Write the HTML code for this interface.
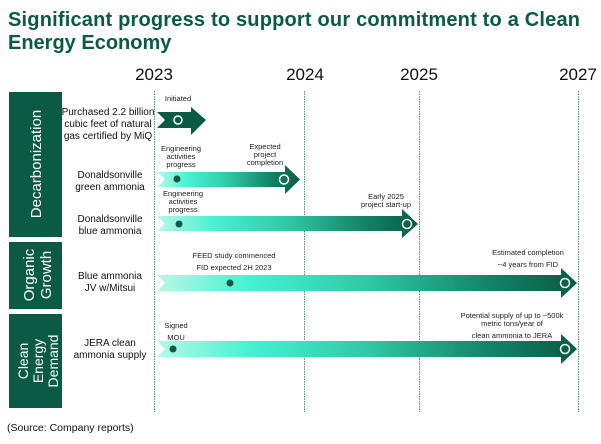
<!DOCTYPE html>
<html><head><meta charset="utf-8"><style>
body{margin:0;background:#fff;}
svg text{font-family:"Liberation Sans",Arial,sans-serif;}
</style></head><body>
<svg width="601" height="439" viewBox="0 0 601 439" xmlns="http://www.w3.org/2000/svg">
<defs>
<linearGradient id="g" x1="0" x2="1" y1="0" y2="0">
<stop offset="0" stop-color="#b8f8e8"/>
<stop offset="0.22" stop-color="#45f2d2"/>
<stop offset="0.5" stop-color="#2fc9a6"/>
<stop offset="0.8" stop-color="#128265"/>
<stop offset="1" stop-color="#0b5a45"/>
</linearGradient>
</defs>
<text x="8" y="26" font-size="20" font-weight="bold" fill="#0b5a45" textLength="572">Significant progress to support our commitment to a Clean</text>
<text x="8" y="49" font-size="20" font-weight="bold" fill="#0b5a45">Energy Economy</text>

<g font-size="17" fill="#111" text-anchor="middle">
<text x="154" y="80">2023</text><text x="305" y="80">2024</text><text x="419" y="80">2025</text><text x="578" y="80">2027</text>
</g>
<g stroke="#5a8a7a" stroke-width="1" stroke-dasharray="1.5,1">
<line x1="154.5" y1="91" x2="154.5" y2="412"/><line x1="304.5" y1="91" x2="304.5" y2="412"/>
<line x1="419.5" y1="91" x2="419.5" y2="412"/><line x1="578.5" y1="91" x2="578.5" y2="412"/>
</g>

<rect x="9" y="92" width="53" height="145" fill="#0b5a45"/>
<rect x="9" y="242" width="53" height="67" fill="#0b5a45"/>
<rect x="9" y="314" width="53" height="94" fill="#0b5a45"/>
<g fill="#fff" font-size="15" text-anchor="middle">
<text transform="translate(41,164) rotate(-90)">Decarbonization</text>
<text transform="translate(34,275) rotate(-90)">Organic</text>
<text transform="translate(51,275) rotate(-90)">Growth</text>
</g>
<g fill="#fff" font-size="14" text-anchor="middle">
<text transform="translate(28,361) rotate(-90)">Clean</text>
<text transform="translate(43,361) rotate(-90)">Energy</text>
<text transform="translate(58,361) rotate(-90)">Demand</text>
</g>

<g font-size="10" fill="#111" text-anchor="middle">
<text x="108" y="115">Purchased 2.2 billion</text>
<text x="108" y="127">cubic feet of natural</text>
<text x="108" y="139">gas certified by MiQ</text>
<text x="110" y="178">Donaldsonville</text>
<text x="110" y="190">green ammonia</text>
<text x="110" y="222">Donaldsonville</text>
<text x="110" y="234">blue ammonia</text>
<text x="110" y="279">Blue ammonia</text>
<text x="110" y="291">JV w/Mitsui</text>
<text x="110" y="346">JERA clean</text>
<text x="110" y="358">ammonia supply</text>
</g>

<polygon points="157,112 191,112 191,107 206,120 191,135 191,128 157,128 165,120" fill="#0b5a45"/>
<polygon points="157,172 285,172 285,165 300,179.5 285,194 285,187 157,187 165,179.5" fill="url(#g)"/>
<polygon points="157,216 402,216 402,209 418,224 402,238 402,231 157,231 165,224" fill="url(#g)"/>
<polygon points="157,275 561,275 561,268 577,283 561,298 561,291 157,291 165,283" fill="url(#g)"/>
<polygon points="157,341 561,341 561,334 577,349 561,364 561,357 157,357 165,349" fill="url(#g)"/>

<g fill="none" stroke="#fff" stroke-width="1.5">
<circle cx="178" cy="120" r="4"/><circle cx="284" cy="179.5" r="4.5"/><circle cx="407" cy="224" r="4.5"/>
<circle cx="565" cy="283" r="4.5"/><circle cx="565" cy="349" r="4.5"/>
</g>
<g fill="#0b5a45">
<circle cx="177" cy="179" r="3.5"/><circle cx="179" cy="224" r="3.5"/><circle cx="230" cy="283" r="3.5"/><circle cx="173" cy="349" r="3.5"/>
</g>

<g font-size="7.5" fill="#222" text-anchor="middle">
<text x="178" y="101">Initiated</text>
<text x="181" y="151">Engineering</text><text x="181" y="159">activities</text><text x="181" y="167">progress</text>
<text x="265" y="149">Expected</text><text x="265" y="157">project</text><text x="265" y="165">completion</text>
<text x="183" y="196">Engineering</text><text x="183" y="204">activities</text><text x="183" y="212">progress</text>
<text x="386" y="199">Early 2025</text><text x="386" y="207">project start-up</text>
<text x="234" y="258">FEED study commenced</text><text x="234" y="270">FID expected 2H 2023</text>
<text x="528" y="255">Estimated completion</text><text x="528" y="267">~4 years from FID</text>
<text x="176" y="328">Signed</text><text x="176" y="340">MOU</text>
<text x="512" y="318">Potential supply of up to ~500k</text><text x="512" y="326">metric tons/year of</text><text x="512" y="338">clean ammonia to JERA</text>
</g>

<text x="7" y="431" font-size="10.5" fill="#111">(Source: Company reports)</text>
</svg>
</body></html>
